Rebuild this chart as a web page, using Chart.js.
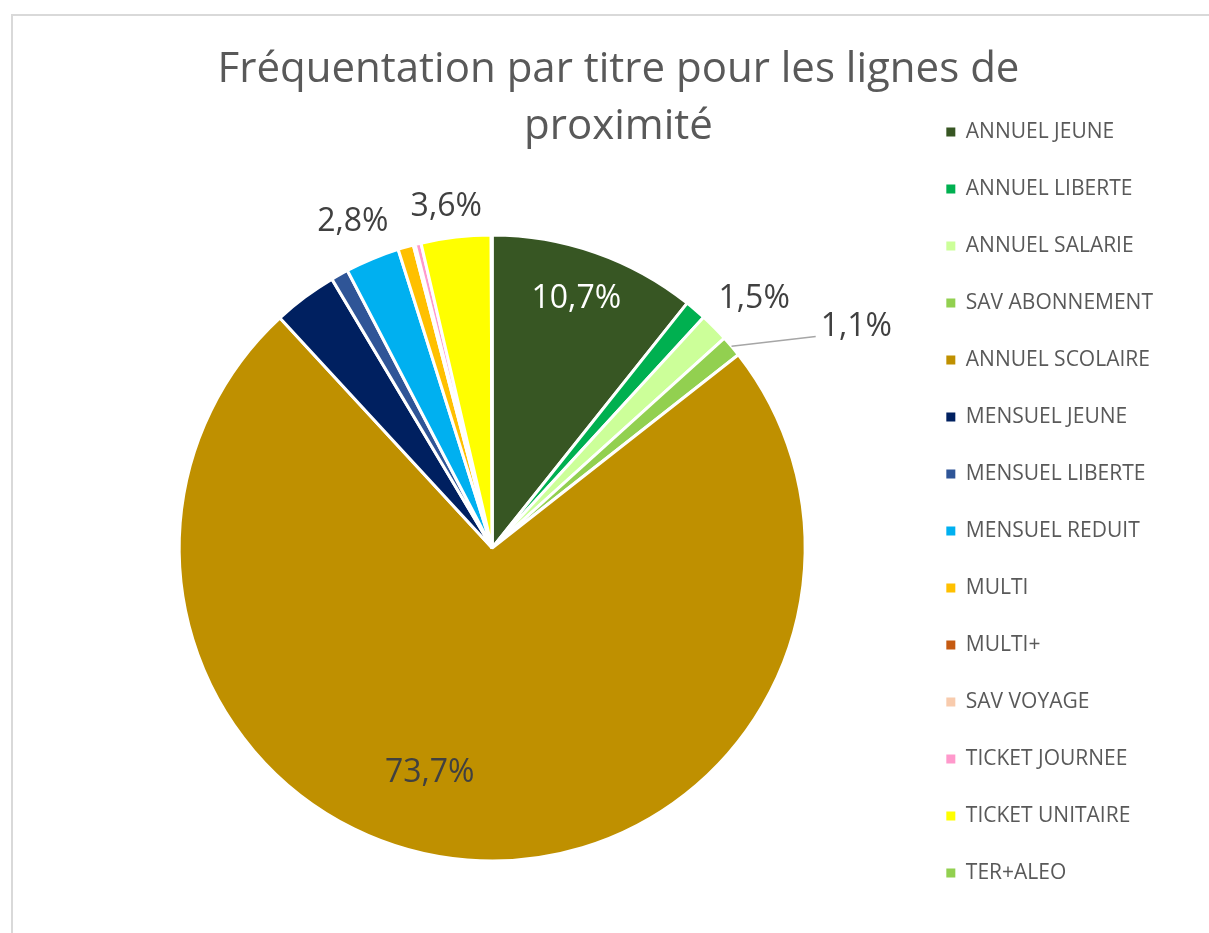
<!DOCTYPE html>
<html lang="fr">
<head>
<meta charset="utf-8">
<title>Fréquentation par titre</title>
<script src="https://cdn.jsdelivr.net/npm/chart.js@4.4.1/dist/chart.umd.min.js"></script>
<style>
  html, body { margin: 0; padding: 0; background: #fff; overflow: hidden; }
  #frame { position: absolute; left: 11px; top: 14px; width: 1400px; height: 1100px; border: 2px solid #d9d9d9; box-sizing: border-box; }
  #chart { position: absolute; left: 0; top: 0; }
</style>
</head>
<body>
<div id="frame"></div>
<canvas id="chart" width="1209" height="933"></canvas>
<script>
const titleLines = ['Fréquentation par titre pour les lignes de', 'proximité'];

const ticketTypes = [
    'ANNUEL JEUNE', 'ANNUEL LIBERTE', 'ANNUEL SALARIE', 'SAV ABONNEMENT',
    'ANNUEL SCOLAIRE', 'MENSUEL JEUNE', 'MENSUEL LIBERTE', 'MENSUEL REDUIT',
    'MULTI', 'MULTI+', 'SAV VOYAGE', 'TICKET JOURNEE', 'TICKET UNITAIRE', 'TER+ALEO'
];

// part de chaque titre (%)
const shares = [10.7, 1.1, 1.5, 1.1, 73.7, 3.3, 0.9, 2.8, 0.8, 0.05, 0.05, 0.3, 3.6, 0.05];

const sliceColors = [
    '#375623', '#00b050', '#ccff99', '#92d050', '#bf9000', '#002060', '#2f5597',
    '#00b0f0', '#ffc000', '#c55a11', '#f8cbad', '#ff99cc', '#ffff00', '#92d050'
];

// étiquettes affichées : index de la part, distance (x rayon), décalage d'angle (deg)
const shownLabels = [
    { index: 0, dist: 0.84, shift: -0.6, color: '#ffffff' },
    { index: 2, dist: 1.154, shift: 1.3, color: '#404040' },
    { index: 3, dist: 1.362, shift: 8.8, color: '#404040', leader: true },
    { index: 4, dist: 0.747, shift: 10.9, color: '#404040' },
    { index: 7, dist: 1.134, shift: -0.6, color: '#404040' },
    { index: 12, dist: 1.1, shift: -1, color: '#404040' }
];

const sliceLabels = {
    id: 'sliceLabels',
    afterDatasetsDraw(chart) {
        const ctx = chart.ctx;
        const meta = chart.getDatasetMeta(0);
        const total = shares.reduce((a, b) => a + b, 0);
        ctx.save();
        ctx.font = '32px "Open Sans"';
        ctx.textAlign = 'center';
        ctx.textBaseline = 'middle';
        shownLabels.forEach(item => {
            const arc = meta.data[item.index];
            const p = arc.getProps(['x', 'y', 'startAngle', 'endAngle', 'outerRadius'], true);
            const mid = (p.startAngle + p.endAngle) / 2;
            const a = mid + item.shift * Math.PI / 180;
            const lx = p.x + Math.cos(a) * p.outerRadius * item.dist;
            const ly = p.y + Math.sin(a) * p.outerRadius * item.dist;
            const text = (shares[item.index] / total * 100).toFixed(1).replace('.', ',') + '%';
            if (item.leader) {
                const w = ctx.measureText(text).width;
                ctx.strokeStyle = '#a6a6a6';
                ctx.lineWidth = 1.5;
                ctx.beginPath();
                ctx.moveTo(p.x + Math.cos(mid) * p.outerRadius, p.y + Math.sin(mid) * p.outerRadius);
                ctx.lineTo(lx - w / 2 - 5, ly + 10);
                ctx.stroke();
            }
            ctx.fillStyle = item.color;
            ctx.fillText(text, lx, ly);
        });
        ctx.restore();
    }
};

new Chart(document.getElementById('chart'), {
    type: 'pie',
    data: {
        labels: ticketTypes,
        datasets: [{
            data: shares,
            backgroundColor: sliceColors,
            borderColor: '#ffffff',
            borderWidth: 3,
            hoverOffset: 0,
            radius: 313
        }]
    },
    options: {
        responsive: false,
        animation: false,
        events: [],
        layout: { autoPadding: false, padding: { top: 14, bottom: -58, left: 74, right: 46 } },
        plugins: {
            tooltip: { enabled: false },
            title: {
                display: true,
                text: titleLines,
                color: '#595959',
                font: { family: 'Open Sans', size: 42, weight: 'normal', lineHeight: 57 / 42 },
                padding: { top: 28, bottom: 7 }
            },
            legend: {
                position: 'right',
                align: 'center',
                labels: {
                    boxWidth: 9,
                    boxHeight: 9,
                    padding: 36,
                    color: '#595959',
                    font: { family: 'Open Sans', size: 21 },
                    generateLabels(chart) {
                        return Chart.overrides.pie.plugins.legend.labels.generateLabels(chart)
                            .map(l => ({ ...l, lineWidth: 0 }));
                    }
                }
            }
        }
    },
    plugins: [sliceLabels]
});
</script>
</body>
</html>
